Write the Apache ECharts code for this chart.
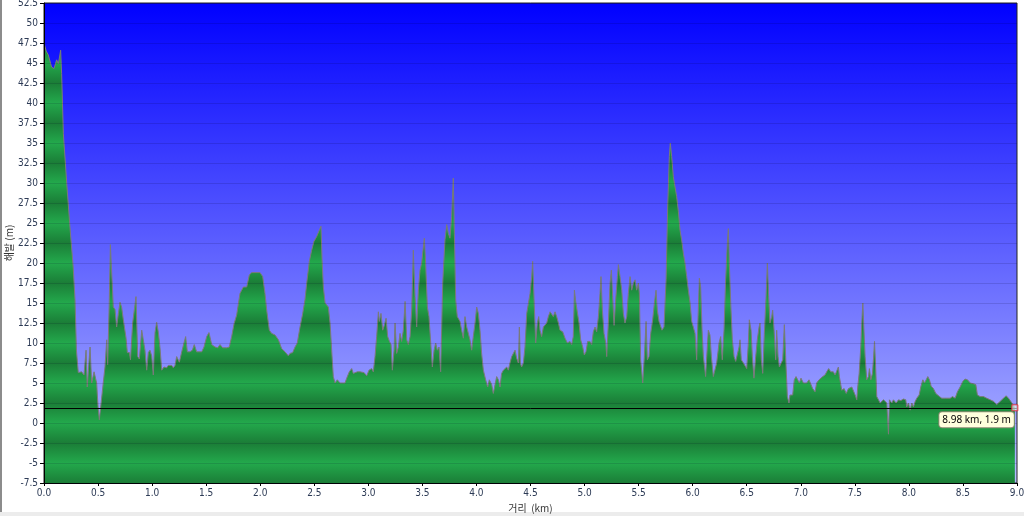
<!DOCTYPE html>
<html>
<head>
<meta charset="utf-8">
<script src="https://cdn.jsdelivr.net/npm/echarts@6/dist/echarts.min.js"></script>
<style>
html,body{margin:0;padding:0;background:#fff;}
#chart{width:1024px;height:516px;}
</style>
</head>
<body>
<div id="chart"></div>
<script>
// ---- data ----
const xAxisLabel = '거리  (km)';
const yAxisLabel = '해발 (m)';
const xRange = [0, 9.0, 0.5];
const yRange = [-7.5, 52.5, 2.5];
const cursorPoint = [8.98, 1.9];

// elevation profile: [distance km, elevation m]
const profile = [
[0,47.5],[0.02,46.5],[0.04,46.0],[0.07,44.5],[0.093,44.3],[0.117,45.4],[0.133,44.9],[0.154,46.6],[0.163,43.7],[0.179,36.2],
[0.21,30.0],[0.24,24.5],[0.27,19.5],[0.287,15.4],[0.30,9.1],[0.317,6.3],[0.333,6.1],[0.348,6.4],[0.37,6.0],[0.389,9.1],
[0.40,4.5],[0.426,9.5],[0.441,5.0],[0.463,6.4],[0.487,5.0],[0.50,2.0],[0.512,0.4],[0.533,3.1],[0.549,3.1],[0.564,7.0],
[0.58,10.4],[0.589,7.3],[0.604,15.4],[0.614,22.3],[0.626,22.2],[0.641,14.5],[0.657,14.2],[0.672,12.0],[0.688,13.7],[0.703,15.1],
[0.718,14.5],[0.734,12.9],[0.759,10.6],[0.771,8.8],[0.79,8.8],[0.80,7.9],[0.82,12.5],[0.836,12.6],[0.851,15.8],[0.867,8.3],
[0.882,8.0],[0.904,11.6],[0.934,9.1],[0.95,6.6],[0.965,8.8],[0.98,9.1],[0.996,8.4],[1.011,6.0],[1.027,11.3],[1.042,12.6],
[1.058,11.3],[1.073,9.4],[1.089,6.6],[1.11,7.0],[1.135,6.9],[1.15,7.2],[1.166,7.0],[1.181,7.2],[1.196,6.9],[1.212,7.2],
[1.227,8.3],[1.252,7.6],[1.274,8.9],[1.289,8.9],[1.31,10.8],[1.326,8.9],[1.35,8.9],[1.372,9.1],[1.39,9.8],[1.412,8.9],
[1.459,8.9],[1.48,9.5],[1.505,10.8],[1.526,11.3],[1.551,9.8],[1.582,9.5],[1.607,9.4],[1.628,9.8],[1.653,9.4],[1.69,9.4],
[1.714,9.5],[1.736,10.8],[1.758,12.4],[1.782,13.5],
[1.813,16.2],[1.844,17.0],[1.875,17.0],[1.899,18.5],[1.921,18.8],[1.998,18.8],[2.023,18.3],[2.044,16.2],[2.06,14.1],[2.084,11.6],
[2.106,11.2],[2.137,11.0],[2.168,10.4],[2.198,9.3],[2.229,8.9],[2.26,8.4],[2.275,8.7],[2.3,8.8],[2.322,9.5],[2.343,10.0],
[2.368,12.0],[2.393,13.7],[2.414,15.4],[2.43,17.5],[2.454,20.2],[2.476,21.6],[2.497,22.7],[2.522,23.3],[2.547,24.1],[2.562,24.6],
[2.572,20.4],[2.584,17.0],[2.6,15.0],[2.615,14.8],[2.63,14.5],[2.646,12.5],[2.661,9.1],[2.676,5.8],[2.692,5.0],[2.713,5.4],
[2.738,5.0],[2.784,5.0],[2.8,5.6],[2.824,6.4],[2.846,6.8],[2.861,6.2],[2.877,6.0],[2.898,6.4],[2.923,6.4],[2.938,6.6],
[2.96,6.3],[2.985,5.9],[3.006,6.6],[3.031,6.8],[3.046,6.4],[3.062,8.3],[3.077,10.8],[3.093,13.9],[3.102,12.7],[3.117,13.7],
[3.133,11.6],[3.148,12.2],[3.164,13.1],[3.179,10.8],[3.195,10.2],[3.21,9.8],[3.222,6.6],[3.238,9.1],[3.247,12.5],[3.262,8.7],
[3.278,9.5],[3.293,11.2],[3.308,10.2],[3.324,11.6],[3.34,15.2],[3.355,10.4],[3.37,9.8],[3.386,10.8],[3.401,14.1],[3.416,21.6],
[3.432,15.8],[3.447,12.0],[3.463,16.6],[3.478,19.1],[3.493,20.0],[3.509,22.0],[3.518,23.1],[3.53,20.0],[3.546,14.5],[3.561,13.3],
[3.577,10.0],[3.592,7.0],[3.608,9.1],[3.623,10.0],[3.638,9.1],[3.654,9.5],[3.669,6.4],
[3.688,17.5],[3.709,22.9],[3.725,24.8],[3.74,23.7],[3.755,23.1],[3.771,25.8],[3.786,30.6],[3.796,23.7],[3.808,15.4],[3.823,13.3],
[3.848,12.7],[3.863,11.6],[3.879,10.6],[3.894,13.3],[3.91,12.0],[3.925,12.0],[3.94,10.4],[3.956,9.1],[3.971,10.8],[3.987,12.5],
[4.002,14.5],[4.018,13.7],[4.033,11.6],[4.048,8.7],[4.064,6.6],[4.085,5.4],[4.104,4.5],[4.119,5.4],[4.141,4.8],[4.156,3.7],
[4.172,4.8],[4.187,5.8],[4.203,5.4],[4.218,4.5],[4.233,6.2],[4.249,6.6],[4.264,6.6],[4.28,7.0],[4.295,6.6],[4.31,7.5],
[4.326,8.3],[4.341,8.1],[4.357,9.1],[4.372,8.1],[4.388,7.5],[4.397,12.0],[4.406,7.5],[4.418,7.0],[4.434,7.5],[4.449,9.5],
[4.465,13.7],[4.48,14.9],[4.496,16.2],[4.511,18.3],[4.52,20.2],[4.533,15.4],[4.548,10.0],[4.563,12.5],[4.576,13.3],[4.588,11.6],
[4.603,10.8],[4.619,12.0],[4.634,11.8],[4.65,12.5],[4.665,13.3],[4.681,13.9],[4.696,13.7],[4.711,13.3],[4.727,13.9],[4.742,13.3],
[4.758,12.5],[4.773,11.6],[4.798,11.4],[4.819,10.6],[4.841,10.0],[4.865,10.2],[4.881,9.8],[4.896,10.8],[4.906,16.6],[4.918,15.2],
[4.933,15.2],[4.949,12.5],[4.964,10.4],[4.983,9.5],[4.998,8.5],[5.013,8.9],[5.029,10.2],[5.05,10.2],[5.066,9.8],[5.081,11.4],
[5.097,12.0],[5.112,11.4],[5.128,13.3],[5.143,16.2],[5.152,18.3],[5.165,14.1],[5.18,11.2],[5.196,10.0],[5.205,8.3],[5.22,12.5],
[5.236,17.5],[5.248,19.1],[5.26,15.8],[5.273,12.2],[5.288,15.4],[5.304,18.3],[5.313,19.8],[5.328,18.3],[5.344,16.6],[5.359,13.7],
[5.374,12.5],[5.39,13.3],[5.405,16.2],[5.421,18.3],[5.436,16.6],[5.452,17.5],[5.467,17.9],[5.482,16.6],[5.498,17.5],[5.507,16.2],
[5.519,7.9],[5.538,5.0],[5.553,8.3],[5.569,12.7],[5.581,7.9],[5.596,8.3],[5.612,11.2],[5.63,12.9],[5.646,15.0],[5.661,16.6],
[5.673,14.1],[5.689,12.7],[5.704,12.5],[5.716,11.6],[5.735,12.0],[5.754,17.9],[5.769,27.0],[5.784,33.3],[5.793,35.0],[5.806,33.3],
[5.821,30.8],[5.837,29.5],[5.852,28.3],[5.868,26.4],[5.883,24.1],[5.898,22.9],[5.914,21.2],[5.929,20.0],[5.945,18.3],[5.96,16.6],
[5.976,15.0],[5.991,12.7],[6.006,12.0],[6.022,11.2],[6.037,7.9],[6.05,13.3],[6.062,18.1],[6.074,17.0],[6.087,11.6],[6.099,8.3],
[6.12,5.8],[6.13,8.3],[6.145,11.6],[6.16,11.0],[6.173,8.3],[6.191,5.8],[6.207,6.0],[6.222,7.5],[6.244,10.0],[6.259,10.8],
[6.274,7.9],[6.29,11.6],[6.305,17.9],[6.321,22.5],[6.33,24.3],[6.339,20.0],[6.352,15.0],[6.367,10.4],[6.383,8.3],[6.398,7.7],
[6.413,7.9],[6.429,9.5],[6.438,10.4],[6.45,7.9],[6.469,7.5],[6.484,7.3],[6.5,6.8],[6.515,10.0],[6.524,12.9],[6.54,11.6],
[6.552,8.3],[6.567,5.6],[6.583,8.3],[6.598,10.4],[6.614,12.0],[6.623,12.5],[6.635,7.9],[6.648,6.2],[6.663,11.2],[6.679,15.8],
[6.691,20.0],[6.703,15.8],[6.715,12.5],[6.731,13.3],[6.74,14.1],[6.753,11.6],[6.768,7.9],[6.777,11.6],[6.79,8.3],[6.802,7.0],
[6.817,6.8],[6.833,7.9],[6.848,12.3],[6.86,8.3],[6.876,3.3],[6.891,2.5],[6.9,3.5],[6.925,3.5],[6.94,5.4],[6.956,5.8],
[6.971,5.6],[6.987,5.0],[7.002,5.6],[7.015,5.8],[7.024,5.0],[7.055,5.0],[7.076,5.4],[7.092,5.2],[7.11,4.3],[7.132,3.9],
[7.147,5.0],[7.169,5.4],[7.184,5.2],[7.203,5.8],[7.224,6.0],[7.24,6.4],[7.258,6.8],[7.277,6.4],[7.301,6.4],[7.317,6.0],
[7.332,6.0],[7.348,7.0],[7.357,5.8],
[7.379,4.1],[7.401,4.3],[7.42,3.7],[7.441,4.3],[7.457,4.1],[7.472,4.5],[7.487,4.3],[7.503,3.5],[7.518,2.9],[7.527,4.5],
[7.54,6.2],[7.555,9.5],[7.567,13.3],[7.574,15.0],[7.583,12.0],[7.595,8.3],[7.61,5.4],[7.626,5.8],[7.635,6.8],[7.648,5.4],
[7.663,6.2],[7.672,7.9],[7.682,10.2],[7.691,7.5],[7.703,3.3],[7.719,2.9],[7.734,2.5],[7.749,2.3],[7.765,2.9],[7.78,2.7],
[7.796,2.5],[7.811,-1.4],[7.82,2.9],[7.842,2.5],[7.857,2.9],[7.882,2.5],[7.904,2.9],[7.925,2.8],[7.95,3.0],[7.971,2.9],
[7.98,2.0],[7.996,2.5],[8.011,1.6],[8.027,2.5],[8.042,2.0],[8.058,2.7],[8.073,3.1],[8.095,3.5],[8.11,4.5],[8.129,5.4],
[8.144,5.0],[8.16,5.4],[8.175,5.8],[8.19,5.4],[8.206,4.6],[8.227,4.3],[8.249,3.7],[8.267,3.5],[8.283,3.3],[8.304,3.1],
[8.32,3.3],[8.342,3.1],[8.357,3.3],[8.382,3.1],[8.403,3.3],[8.428,3.1],[8.449,3.9],[8.474,4.5],[8.499,5.2],[8.52,5.5],
[8.542,5.4],[8.567,5.0],[8.597,4.9],[8.619,4.8],[8.634,3.5],[8.659,3.3],[8.69,3.3],[8.72,3.1],[8.752,2.9],[8.783,2.7],
[8.813,2.3],[8.844,2.7],[8.875,3.1],[8.9,3.4],[8.921,3.1],[8.943,2.7],[8.96,2.5],[8.98,1.9]
];

// ---- styling ----
const GRID = {left:44, right:7, top:3, bottom:33};
const chartH = 516;
const plotTop = GRID.top, plotBottom = chartH - GRID.bottom;

// banded green fill: dark band centred on every x.5 multiple of 5, light on multiples of 5
const nBands = Math.round((yRange[1]-yRange[0])/yRange[2]);
const greenStops = [];
for (let i = 0; i <= nBands; i++) {
  const v = yRange[1] - i*yRange[2];
  const isLight = Math.abs(v % 5) < 1e-6;
  greenStops.push({offset: i/nBands, color: isLight ? '#23a94c' : '#1b7d37'});
}
const greenFill = {type:'linear', global:true, x:0, y:plotTop, x2:0, y2:plotBottom, colorStops: greenStops};
const skyFill = new echarts.graphic.LinearGradient(0,0,0,1,[
  {offset:0, color:'#0000ff'},
  {offset:1, color:'#b6bcff'}
]);

const labelFont = {fontFamily:'DejaVu Sans Condensed, DejaVu Sans', fontSize:10, color:'#2c3a55'};

const chart = echarts.init(document.getElementById('chart'), null, {renderer:'canvas'});
chart.setOption({
  animation:false,
  backgroundColor:'#ffffff',
  grid:{left:GRID.left, right:GRID.right, top:GRID.top, bottom:GRID.bottom, show:true,
        outerBoundsMode:'none', containLabel:false,
        backgroundColor: skyFill, borderColor:'#222', borderWidth:1},
  xAxis:{
    type:'value', min:xRange[0], max:xRange[1], interval:xRange[2],
    name:xAxisLabel, nameLocation:'middle', nameGap:15,
    nameTextStyle:{fontFamily:'Noto Sans CJK KR', fontSize:10, color:'#333'},
    axisLine:{show:true, onZero:false, lineStyle:{color:'#000', width:1}},
    axisTick:{show:true, length:3, lineStyle:{color:'#000'}},
    axisLabel:Object.assign({margin:5, formatter:v=>v.toFixed(1)}, labelFont),
    splitLine:{show:false}
  },
  yAxis:{
    type:'value', min:yRange[0], max:yRange[1], interval:yRange[2], z:5,
    axisLine:{show:true, onZero:false, lineStyle:{color:'#000', width:1}},
    axisTick:{show:true, length:4, lineStyle:{color:'#000'}},
    axisLabel:Object.assign({margin:6}, labelFont),
    splitLine:{show:true, lineStyle:{color:'rgba(0,0,40,0.13)', width:1}}
  },
  series:[{
    type:'line', data:profile, showSymbol:false, symbol:'none', smooth:false,
    lineStyle:{color:'#7a7a7a', width:1},
    areaStyle:{color:greenFill, opacity:1, origin:'start'},
    z:2,
    markLine:{
      silent:true, symbol:['none','none'], animation:false,
      label:{show:false},
      lineStyle:{color:'#000', width:1, type:'solid'},
      data:[{yAxis:cursorPoint[1]}]
    },
    markPoint:{
      silent:true, animation:false,
      symbol:'rect', symbolSize:6,
      itemStyle:{color:'rgba(255,255,255,0.6)', borderColor:'#e03040', borderWidth:1},
      label:{
        show:true, position:[-72, 8],
        formatter: cursorPoint[0] + ' km, ' + cursorPoint[1] + ' m',
        backgroundColor:'#ffffdd', borderColor:'#8a8a70', borderWidth:1, borderRadius:3,
        padding:[3,3,2,3], color:'#000', fontFamily:'Noto Sans', fontSize:10
      },
      data:[{coord:cursorPoint}]
    }
  }],
  graphic:[
    {type:'rect', left:0, top:0, shape:{width:2, height:512}, style:{fill:'#8c8c8c'}, silent:true},
    {type:'rect', left:0, top:512, shape:{width:1024, height:4}, style:{fill:'#ececec'}, silent:true},
    {type:'text', x:9, y:243, rotation:Math.PI/2, silent:true,
     style:{text:yAxisLabel, align:'center', verticalAlign:'middle',
            font:'10px "Noto Sans CJK KR"', fill:'#333'}}
  ]
});
</script>
</body>
</html>
